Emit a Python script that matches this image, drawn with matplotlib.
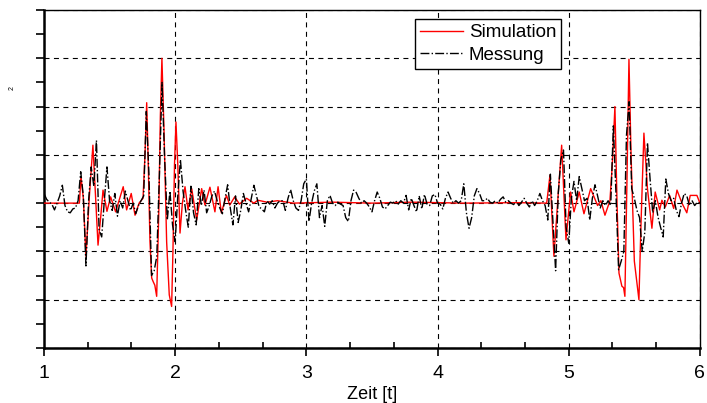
"""Simulation vs. Messung over time (recreated chart)."""

import matplotlib

matplotlib.use("Agg")

import numpy as np  # noqa: E402
from matplotlib import pyplot as plt  # noqa: E402
from matplotlib.ticker import MultipleLocator  # noqa: E402

plt.rcParams["font.family"] = ["Liberation Sans", "DejaVu Sans"]

# Simulation: values at its turning points
sim_t = [
    1.000, 1.270, 1.282, 1.300, 1.320, 1.345, 1.373, 1.392, 1.412, 1.432,
    1.450, 1.480, 1.508, 1.546, 1.575, 1.604, 1.630, 1.665, 1.694, 1.725,
    1.755, 1.770, 1.783, 1.795, 1.808, 1.821, 1.833, 1.845, 1.859, 1.875,
    1.887, 1.899, 1.915, 1.935, 1.955, 1.973, 1.983, 1.995, 2.006, 2.020,
    2.037, 2.055, 2.075, 2.098, 2.126, 2.164, 2.202, 2.227, 2.265, 2.303,
    2.327, 2.352, 2.391, 2.416, 2.454, 2.490, 2.545, 2.600, 2.630, 2.700,
    2.780, 2.900, 3.200, 3.500, 3.800, 4.200, 4.600, 4.832, 4.857, 4.887,
    4.915, 4.946, 4.979, 5.014, 5.040, 5.080, 5.116, 5.167, 5.220, 5.245,
    5.276, 5.314, 5.332, 5.352, 5.368, 5.383, 5.405, 5.418, 5.428, 5.444,
    5.459, 5.475, 5.500, 5.535, 5.550, 5.573, 5.600, 5.634, 5.659, 5.693,
    5.710, 5.736, 5.769, 5.800, 5.825, 5.863, 5.900, 5.926, 5.977, 6.000,
]
sim_v = [
    0.00, 0.00, 0.55, 0.10, -1.10, 0.10, 1.20, 0.20, -0.87, -0.30,
    0.27, -0.17, 0.13, -0.18, 0.08, 0.34, -0.14, 0.20, -0.25, 0.00,
    0.10, 1.00, 2.08, 0.80, -0.80, -1.55, -1.63, -1.70, -1.93, -0.20,
    1.80, 3.00, 1.50, -0.80, -1.90, -2.14, -1.00, 0.80, 1.68, 0.80,
    -0.62, 0.00, 0.34, -0.14, 0.30, -0.35, 0.30, -0.04, 0.33, -0.18,
    0.34, -0.20, 0.16, -0.04, 0.13, -0.02, 0.10, 0.00, 0.06, 0.02,
    0.05, 0.00, 0.02, 0.00, 0.02, 0.00, 0.01, 0.00, 0.58, -1.10,
    0.00, 1.20, -0.76, 0.23, -0.18, 0.23, -0.22, 0.30, -0.05, 0.05,
    -0.25, 0.05, 0.80, 2.00, 0.00, -1.45, -1.72, -1.75, -1.93, 0.50,
    2.98, 1.00, -1.20, -2.00, -0.50, 1.45, 0.30, -0.52, 0.23, -0.14,
    0.06, -0.08, 0.16, -0.11, 0.27, 0.00, -0.20, 0.16, 0.16, 0.00,
]

# Messung: one sample every 0.02 t from 1 to 6
mess_v = [
    # 1.00 - 1.98
    0.20, 0.08, 0.02, -0.02, -0.14, 0.00, 0.15, 0.37, -0.05, -0.18,
    -0.20, -0.12, -0.10, 0.05, 0.65, 0.15, -1.30, 0.05, 0.75, 0.35,
    1.30, -0.55, -0.70, 0.05, 0.75, 0.05, -0.15, 0.20, -0.27, 0.05,
    -0.10, 0.25, 0.05, -0.15, 0.00, -0.22, -0.05, 0.05, 0.15, 1.90,
    0.60, -1.50, -1.40, -1.10, 0.60, 2.50, 0.90, -0.35, 0.25, -0.45,
    # 2.00 - 2.98
    -0.80, 0.15, 0.90, 0.25, -0.15, -0.50, 0.35, -0.20, -0.45, 0.30,
    -0.05, 0.27, -0.20, -0.05, 0.15, 0.25, 0.05, -0.10, -0.22, 0.10,
    0.38, -0.10, -0.45, 0.15, -0.40, -0.15, 0.20, 0.00, -0.18, 0.10,
    0.37, 0.15, -0.08, -0.12, -0.18, 0.05, -0.02, 0.05, -0.10, 0.00,
    0.05, 0.05, -0.15, 0.10, 0.28, 0.05, -0.10, -0.15, 0.05, 0.40,
    # 3.00 - 3.98
    0.50, -0.38, 0.00, 0.25, 0.40, -0.30, -0.05, -0.48, 0.05, 0.16,
    0.00, -0.05, 0.02, -0.02, -0.05, -0.30, -0.38, 0.05, 0.27, 0.22,
    0.10, 0.00, 0.05, 0.00, -0.08, -0.18, 0.05, 0.23, 0.10, -0.08,
    -0.12, -0.05, 0.02, 0.00, 0.05, -0.02, 0.05, 0.00, 0.16, -0.14,
    0.10, -0.05, -0.18, 0.15, -0.12, 0.18, -0.02, -0.05, 0.15, 0.18,
    # 4.00 - 4.98
    0.00, -0.02, -0.12, 0.10, 0.23, 0.10, 0.00, 0.05, 0.00, 0.05,
    0.40, -0.20, -0.52, -0.30, 0.15, 0.30, 0.20, 0.05, 0.05, 0.10,
    0.02, 0.00, 0.05, 0.00, 0.08, 0.13, 0.02, 0.05, 0.00, -0.03,
    0.05, -0.05, 0.02, 0.10, 0.00, -0.08, 0.05, -0.05, 0.05, 0.20,
    0.05, -0.05, -0.35, 0.60, -0.40, -1.40, 0.20, 0.90, 1.10, -0.50,
    # 5.00 - 6.00
    -0.83, 0.10, 0.45, 0.05, 0.55, 0.30, 0.05, 0.10, -0.35, 0.10,
    0.38, 0.15, -0.10, 0.05, -0.05, 0.05, -0.05, 1.60, 0.20, -1.38,
    -1.20, -1.00, 1.40, 2.10, 0.30, 0.10, -0.15, -0.30, -1.00, -0.60,
    1.25, 0.50, -0.20, 0.05, -0.28, -0.50, -0.70, 0.50, 0.20, 0.05,
    0.10, -0.15, -0.28, 0.00, 0.20, 0.15, -0.05, 0.05, -0.05, 0.02,
    0.00,
]
mess_t = np.linspace(1.0, 6.0, len(mess_v))

x_ticks = [1, 2, 3, 4, 5, 6]

fig = plt.figure(figsize=(7.07, 4.03), dpi=100)
ax = fig.add_axes([0.0622, 0.1365, 0.9278, 0.8387])

ax.plot(sim_t, sim_v, color="#ff0000", linewidth=1.0, label="Simulation", zorder=3)
ax.plot(mess_t, mess_v, color="black", linewidth=1.0, linestyle="-.",
        label="Messung", zorder=4)

ax.set_xlim(1, 6)
ax.set_ylim(-3, 4)
ax.set_xticks(x_ticks)
ax.set_xticklabels([str(t) for t in x_ticks], fontsize=14)
ax.xaxis.set_minor_locator(MultipleLocator(1 / 3))
ax.yaxis.set_major_locator(MultipleLocator(1))
ax.yaxis.set_minor_locator(MultipleLocator(0.5))
ax.set_yticklabels([])

ax.tick_params(axis="x", which="major", direction="out", length=6, width=1.2, pad=6)
ax.tick_params(axis="x", which="minor", direction="in", length=4, width=1.2)
ax.tick_params(axis="y", which="both", direction="out", length=6, width=1.2)

ax.grid(True, which="major", color="black", linewidth=0.8, linestyle=(0, (4.5, 4)))
ax.set_axisbelow(True)

for side in ["left", "bottom"]:
    ax.spines[side].set_linewidth(1.8)
for side in ["top", "right"]:
    ax.spines[side].set_linewidth(1.0)

ax.set_xlabel("Zeit [t]", fontsize=13, labelpad=3)
fig.text(12 / 707, 1 - 88 / 403, "2", rotation=90, fontsize=5, ha="center", va="center")

leg = ax.legend(loc="upper left", bbox_to_anchor=(0.566, 0.972), fontsize=13.5,
                frameon=True, fancybox=False, framealpha=1, edgecolor="black",
                handlelength=2.3, handletextpad=0.3, labelspacing=0.3,
                borderpad=0.25, borderaxespad=0)
leg.get_frame().set_linewidth(1.0)

fig.savefig("out.png", dpi=100)
